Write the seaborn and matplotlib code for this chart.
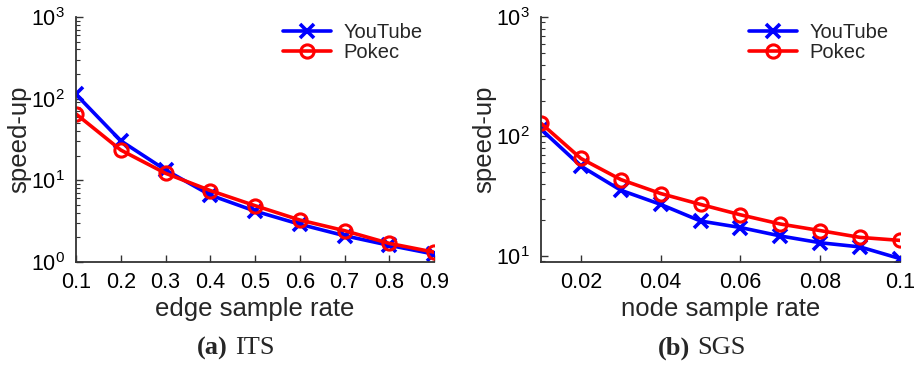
import matplotlib
matplotlib.use("Agg")
import matplotlib.pyplot as plt
import seaborn as sns
import pandas as pd
from matplotlib.ticker import LogLocator, NullFormatter

# ---- data ----
edge_rate = [0.1, 0.2, 0.3, 0.4, 0.5, 0.6, 0.7, 0.8, 0.9]
its_youtube = [113, 30.5, 13.4, 6.6, 4.2, 2.9, 2.1, 1.6, 1.25]
its_pokec = [65, 23.5, 12.2, 7.5, 4.9, 3.27, 2.42, 1.69, 1.32]

node_rate = [0.01, 0.02, 0.03, 0.04, 0.05, 0.06, 0.07, 0.08, 0.09, 0.1]
sgs_youtube = [115, 56.5, 35.5, 27.0, 19.6, 17.3, 14.7, 12.9, 11.9, 9.5]
sgs_pokec = [129, 65.5, 43.6, 33.3, 27.0, 22.1, 18.5, 16.3, 14.3, 13.5]

series = ["YouTube", "Pokec"]
edge_ticks = [0.1, 0.2, 0.3, 0.4, 0.5, 0.6, 0.7, 0.8, 0.9]
edge_tick_labels = ["0.1", "0.2", "0.3", "0.4", "0.5", "0.6", "0.7", "0.8", "0.9"]
node_ticks = [0.02, 0.04, 0.06, 0.08, 0.1]
node_tick_labels = ["0.02", "0.04", "0.06", "0.08", "0.1"]

sns.set_style("ticks")
plt.rcParams["font.family"] = ["Liberation Sans", "DejaVu Sans"]
plt.rcParams["mathtext.fontset"] = "custom"
plt.rcParams["mathtext.rm"] = "Liberation Sans"
plt.rcParams["mathtext.it"] = "Liberation Sans"

fig = plt.figure(figsize=(9.21, 3.67), dpi=100)
W, H = 921, 367

def ax_at(x0, x1, y0, y1):
    return fig.add_axes([x0 / W, 1 - y1 / H, (x1 - x0) / W, (y1 - y0) / H])

ax1 = ax_at(76, 434, 17, 262)
ax2 = ax_at(541, 900, 17, 262)

palette = {"YouTube": "#0000ff", "Pokec": "#ff0000"}

def build(x, a, b):
    return pd.DataFrame({
        "x": list(x) * 2,
        "y": list(a) + list(b),
        "series": ["YouTube"] * len(x) + ["Pokec"] * len(x),
    })

df1 = build(edge_rate, its_youtube, its_pokec)
df2 = build(node_rate, sgs_youtube, sgs_pokec)

for ax, df in [(ax1, df1), (ax2, df2)]:
    for name in series:
        sub = df[df["series"] == name]
        if name == "YouTube":
            sns.lineplot(data=sub, x="x", y="y", ax=ax, color=palette[name],
                         marker="x", markersize=9.5, markeredgewidth=2.6,
                         markeredgecolor=palette[name], linestyle="-",
                         linewidth=2.6, label=name)
        else:
            sns.lineplot(data=sub, x="x", y="y", ax=ax, color=palette[name],
                         marker="o", markersize=9.5, markerfacecolor="none",
                         markeredgecolor=palette[name], markeredgewidth=2.2,
                         linestyle="-", linewidth=2.6, label=name)

for ax in (ax1, ax2):
    ax.set_yscale("log")
    ax.yaxis.set_major_locator(LogLocator(base=10, numticks=10))
    ax.yaxis.set_minor_locator(LogLocator(base=10, subs=range(2, 10), numticks=20))
    ax.yaxis.set_minor_formatter(NullFormatter())
    ax.tick_params(axis="both", which="both", direction="in", colors="#333333",
                   labelcolor="black", labelsize=15.5)
    ax.tick_params(axis="both", which="major", length=5, width=1)
    ax.tick_params(axis="y", which="minor", length=3, width=0.8)
    ax.tick_params(axis="x", which="major", pad=7)
    ax.tick_params(axis="y", which="major", pad=8)
    for s in ("top", "right"):
        ax.spines[s].set_visible(False)
    for s in ("left", "bottom"):
        ax.spines[s].set_color("#333333")
        ax.spines[s].set_linewidth(1.3)
    ax.set_ylabel("speed-up", fontsize=18.5, labelpad=0)
    ax.legend(loc="upper right", frameon=False, fontsize=14.5,
              handlelength=2.4, handletextpad=0.6, labelspacing=0.05,
              borderaxespad=0.0, bbox_to_anchor=(0.99, 1.01))

ax1.set_xlim(0.1, 0.9)
ax1.set_ylim(1, 1000)
ax1.set_xticks(edge_ticks)
ax1.set_xticklabels(edge_tick_labels)
ax1.set_xlabel("edge sample rate", fontsize=18.5, labelpad=3)

ax2.set_xlim(0.01, 0.1)
ax2.set_ylim(8.9, 1000)
ax2.set_xticks(node_ticks)
ax2.set_xticklabels(node_tick_labels)
ax2.set_xlabel("node sample rate", fontsize=18.5, labelpad=3)

for ax in (ax1, ax2):
    for lab in ax.get_xticklabels() + ax.get_yticklabels():
        lab.set_clip_on(False)

def caption(xc, letter, name):
    fig.text(xc / W, 1 - 348 / H, f"({letter})", fontsize=19, fontweight="bold",
             family="Liberation Serif", ha="right", va="center")
    fig.text(xc / W + 0.008, 1 - 348 / H, name, fontsize=19,
             family="Liberation Serif", ha="left", va="center")

caption(228, "a", "ITS")
caption(690, "b", "SGS")

fig.savefig("out.png", dpi=100)
